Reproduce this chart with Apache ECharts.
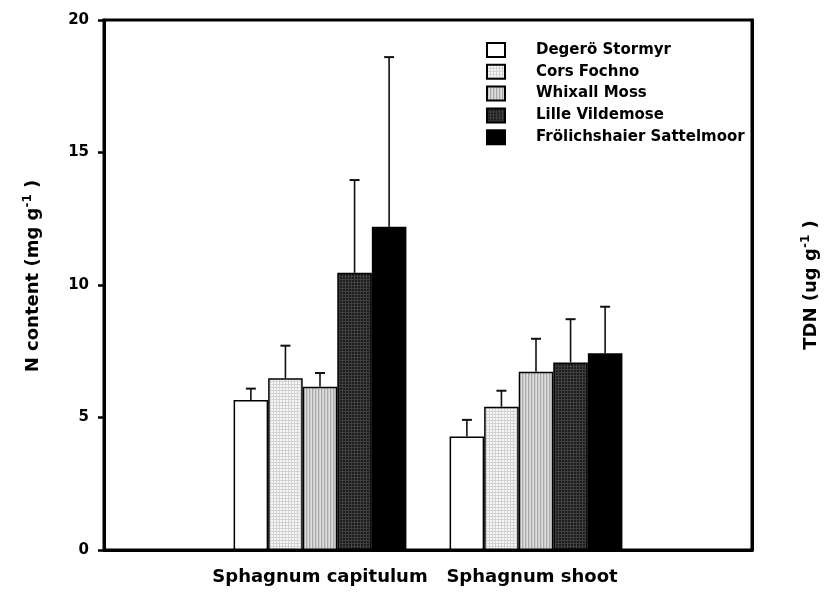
<!DOCTYPE html>
<html>
<head>
<meta charset="utf-8">
<script src="https://cdn.jsdelivr.net/npm/echarts@6/dist/echarts.min.js"></script>
<style>
  html, body { margin: 0; padding: 0; background: #fff; }
  #chart { width: 830px; height: 593px; }
</style>
</head>
<body>
<div id="chart"></div>
<script>
// ---- data ----
const categories = ['', 'Sphagnum capitulum', 'Sphagnum shoot', ''];
const sites = ['Degerö Stormyr', 'Cors Fochno', 'Whixall Moss', 'Lille Vildemose', 'Frölichshaier Sattelmoor'];
const meanCapitulum = [5.66, 6.48, 6.16, 10.46, 12.2];
const sdCapitulum = [0.43, 1.23, 0.52, 3.50, 6.40];
const meanShoot = [4.28, 5.41, 6.73, 7.08, 7.42];
const sdShoot = [0.63, 0.60, 1.24, 1.63, 1.76];
const yTicks = { min: 0, max: 20, interval: 5 };

// ---- fill patterns ----
function tile(size, draw) {
  const c = document.createElement('canvas');
  c.width = size; c.height = size;
  const ctx = c.getContext('2d');
  draw(ctx);
  return { image: c, repeat: 'repeat' };
}
const fills = [
  '#ffffff',
  tile(3, ctx => { ctx.fillStyle = '#f8f8f8'; ctx.fillRect(0,0,3,3); ctx.fillStyle = '#d2d2d2'; ctx.fillRect(0,0,3,1); ctx.fillRect(0,0,1,3); }),
  tile(3, ctx => { ctx.fillStyle = '#cdcdcd'; ctx.fillRect(0,0,3,3); ctx.fillStyle = '#a8a8a8'; ctx.fillRect(0,0,1,3); ctx.fillStyle = '#dedede'; ctx.fillRect(2,0,1,3); }),
  tile(3, ctx => { ctx.fillStyle = '#1c1c1c'; ctx.fillRect(0,0,3,3); ctx.fillStyle = '#404040'; ctx.fillRect(0,0,3,1); ctx.fillRect(0,0,1,3); }),
  '#000000'
];

const FONT = '"DejaVu Sans", "Liberation Sans", Arial, sans-serif';
const BAR_FRAC = 0.16;

const barSeries = sites.map((name, i) => ({
  name: name,
  type: 'bar',
  barWidth: (BAR_FRAC * 100) + '%',
  barGap: '0%',
  data: [null, meanCapitulum[i], meanShoot[i], null],
  itemStyle: { color: fills[i], borderColor: '#000', borderWidth: 1.5 },
  emphasis: { disabled: true },
  z: 2
}));

const errData = [];
sites.forEach((s, i) => {
  errData.push([1, i, meanCapitulum[i], meanCapitulum[i] + sdCapitulum[i]]);
  errData.push([2, i, meanShoot[i], meanShoot[i] + sdShoot[i]]);
});

const errSeries = {
  type: 'custom',
  name: 'err',
  data: errData,
  encode: { x: 0, y: 3 },
  z: 3,
  renderItem: function (params, api) {
    const band = api.size([1, 0])[0];
    const bw = band * BAR_FRAC;
    const off = (api.value(1) - 2) * bw;
    const p0 = api.coord([api.value(0), api.value(2)]);
    const p1 = api.coord([api.value(0), api.value(3)]);
    const x = p0[0] + off;
    const cap = 5;
    const st = { stroke: '#111', lineWidth: 1.6 };
    return {
      type: 'group',
      children: [
        { type: 'line', shape: { x1: x, y1: p0[1], x2: x, y2: p1[1] }, style: st },
        { type: 'line', shape: { x1: x - cap, y1: p1[1], x2: x + cap, y2: p1[1] }, style: { stroke: '#111', lineWidth: 2 } }
      ]
    };
  }
};

const titleRich = {
  sup: { fontFamily: FONT, fontWeight: 'bold', fontSize: 12, color: '#000', padding: [0, 0, 10, 0] },
  n: { fontFamily: FONT, fontWeight: 'bold', fontSize: 18, color: '#000' }
};

const chart = echarts.init(document.getElementById('chart'));
chart.setOption({
  animation: false,
  backgroundColor: '#fff',
  grid: { left: 104, right: 78, top: 20, bottom: 43, show: true, borderColor: '#000', borderWidth: 3, backgroundColor: 'transparent' },
  legend: {
    data: sites,
    orient: 'vertical',
    left: 486,
    top: 42,
    padding: 0,
    icon: 'rect',
    itemWidth: 18,
    itemHeight: 14,
    itemGap: 5.8,
    textStyle: { fontFamily: FONT, fontWeight: 'bold', fontSize: 15, color: '#000', padding: [0, 0, 0, 26], lineHeight: 16 }
  },
  xAxis: {
    type: 'category',
    data: [
      categories[0],
      categories[1],
      { value: categories[2], textStyle: { padding: [0, 8, 0, 0] } },
      categories[3]
    ],
    boundaryGap: false,
    z: 10,
    axisLine: { show: true, lineStyle: { color: '#000', width: 3 } },
    axisTick: { show: false },
    axisLabel: { interval: 0, margin: 18, fontFamily: FONT, fontWeight: 'bold', fontSize: 18, color: '#000' },
    splitLine: { show: false }
  },
  yAxis: [
    {
      type: 'value',
      position: 'left',
      min: yTicks.min, max: yTicks.max, interval: yTicks.interval,
      z: 10,
      axisLine: { show: true, lineStyle: { color: '#000', width: 3 } },
      axisTick: { show: true, length: 6, lineStyle: { color: '#000', width: 2.5 } },
      axisLabel: { margin: 15, fontFamily: FONT, fontWeight: 'bold', fontSize: 15, color: '#000' },
      splitLine: { show: false },
      name: 'N content (mg g{sup|-1}{n| })',
      nameLocation: 'middle',
      nameRotate: 90,
      nameGap: 60,
      nameTextStyle: {
        fontFamily: FONT, fontWeight: 'bold', fontSize: 18, color: '#000',
        padding: [0, 0, 0, 18],
        rich: titleRich
      }
    },
    {
      type: 'value',
      position: 'right',
      min: yTicks.min, max: yTicks.max, interval: yTicks.interval,
      z: 10,
      axisLine: { show: true, lineStyle: { color: '#000', width: 3 } },
      axisTick: { show: false },
      axisLabel: { show: false },
      splitLine: { show: false },
      name: 'TDN (ug g{sup|-1}{n| })',
      nameLocation: 'middle',
      nameRotate: 90,
      nameGap: 48,
      nameTextStyle: {
        fontFamily: FONT, fontWeight: 'bold', fontSize: 18, color: '#000',
        rich: titleRich
      }
    }
  ],
  series: barSeries.concat([errSeries])
});
</script>
</body>
</html>
